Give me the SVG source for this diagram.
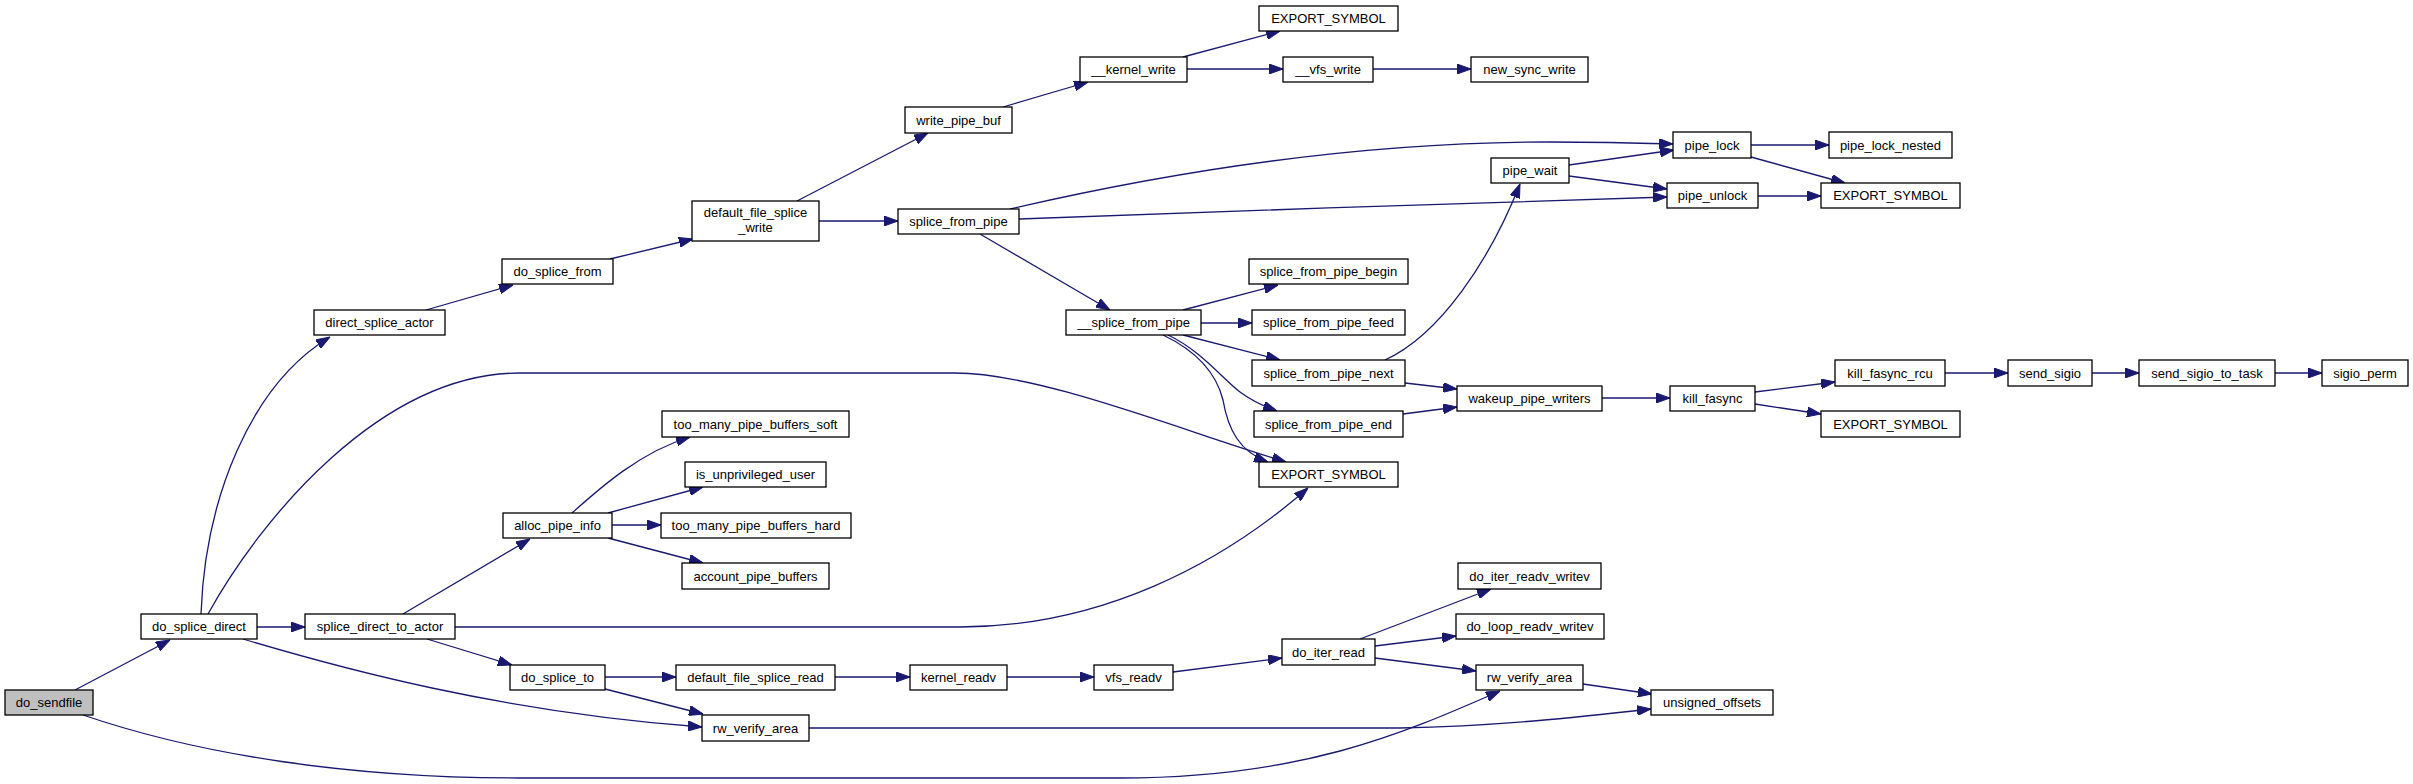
<svg xmlns="http://www.w3.org/2000/svg" width="2413" height="784" viewBox="0 0 2413 784">
<style>
.n rect{fill:#ffffff;stroke:#000000;stroke-width:1.3}
.n.root rect{fill:#bfbfbf}
.n text{font-family:"Liberation Sans",Arial,sans-serif;font-size:13px;fill:#000;text-anchor:middle}
#edges path{fill:none;stroke:#191970;stroke-width:1.3;marker-end:url(#ah)}
</style>
<defs>
<marker id="ah" markerWidth="14" markerHeight="10" refX="14" refY="5" orient="auto" markerUnits="userSpaceOnUse">
<path d="M0,0 L14,5 L0,10 z" fill="#191970" stroke="#191970" stroke-width="1"/>
</marker>
</defs>
<rect width="2413" height="784" fill="#ffffff"/>
<g id="edges">
<path d="M75,690 L170,640"/>
<path d="M83,715 C200,755 350,778 520,778 L1120,778 C1300,778 1400,735 1500,691"/>
<path d="M201,614 C205,500 250,385 330,337"/>
<path d="M208,614 C260,520 380,373 520,373 L955,373 C1040,373 1180,430 1286,462"/>
<path d="M257,627 L305,627"/>
<path d="M243,639 C340,668 500,712 702,727"/>
<path d="M403,614 L530,539"/>
<path d="M455,627 L960,627 C1100,627 1220,565 1308,488"/>
<path d="M427,639 L512,665"/>
<path d="M426,310 L513,285"/>
<path d="M610,259 L693,239"/>
<path d="M797,201 L928,133"/>
<path d="M819,221 L898,221"/>
<path d="M1003,107 L1088,82"/>
<path d="M1183,57 L1280,31"/>
<path d="M1187,69 L1283,69"/>
<path d="M1373,69 L1471,69"/>
<path d="M1010,209 C1200,165 1380,142 1550,142 C1600,142 1640,143 1673,144"/>
<path d="M1019,219 C1200,212 1500,202 1667,197"/>
<path d="M980,234 L1110,310"/>
<path d="M1183,310 L1278,285"/>
<path d="M1201,323 L1252,323"/>
<path d="M1183,335 L1280,360"/>
<path d="M1168,335 C1200,350 1222,378 1240,392 C1252,401 1263,406 1277,411"/>
<path d="M1163,335 C1205,355 1218,380 1223,400 C1228,430 1240,452 1268,462"/>
<path d="M1385,360 C1440,335 1490,260 1520,184"/>
<path d="M1405,383 L1457,389"/>
<path d="M1403,414 L1457,407"/>
<path d="M1569,165 L1674,150"/>
<path d="M1569,176 L1667,189"/>
<path d="M1751,145 L1829,145"/>
<path d="M1751,157 L1845,183"/>
<path d="M1758,196 L1821,196"/>
<path d="M1602,398 L1670,398"/>
<path d="M1755,392 L1835,382"/>
<path d="M1755,404 L1821,414"/>
<path d="M1945,373 L2008,373"/>
<path d="M2092,373 L2139,373"/>
<path d="M2275,373 L2322,373"/>
<path d="M572,513 C600,488 640,452 690,437"/>
<path d="M608,513 L703,487"/>
<path d="M612,525 L661,525"/>
<path d="M608,538 L703,563"/>
<path d="M605,677 L676,677"/>
<path d="M605,689 L703,714"/>
<path d="M835,677 L910,677"/>
<path d="M1007,677 L1094,677"/>
<path d="M1173,672 L1282,658"/>
<path d="M1360,639 L1491,589"/>
<path d="M1375,646 L1456,636"/>
<path d="M1375,658 L1476,671"/>
<path d="M1583,684 L1652,694"/>
<path d="M809,728 L1400,728 C1500,726 1580,717 1651,709"/>
</g>
<g id="do_sendfile" class="n root"><rect x="5" y="690" width="88" height="25"/><text x="49" y="707">do_sendfile</text></g>
<g id="do_splice_direct" class="n"><rect x="141" y="614" width="116" height="25"/><text x="199" y="631">do_splice_direct</text></g>
<g id="splice_direct_to_actor" class="n"><rect x="305" y="614" width="150" height="25"/><text x="380" y="631">splice_direct_to_actor</text></g>
<g id="direct_splice_actor" class="n"><rect x="314" y="310" width="131" height="25"/><text x="379.5" y="327">direct_splice_actor</text></g>
<g id="do_splice_from" class="n"><rect x="502" y="259" width="111" height="25"/><text x="557.5" y="276">do_splice_from</text></g>
<g id="default_file_splice_write" class="n"><rect x="692" y="201" width="127" height="40"/><text x="755.5" y="216.5">default_file_splice</text><text x="755.5" y="231.5">_write</text></g>
<g id="splice_from_pipe" class="n"><rect x="898" y="209" width="121" height="25"/><text x="958.5" y="226">splice_from_pipe</text></g>
<g id="write_pipe_buf" class="n"><rect x="905" y="107" width="107" height="26"/><text x="958.5" y="124.5">write_pipe_buf</text></g>
<g id="__kernel_write" class="n"><rect x="1080" y="57" width="107" height="25"/><text x="1133.5" y="74">__kernel_write</text></g>
<g id="EXPORT_SYMBOL_1" class="n"><rect x="1259" y="6" width="139" height="25"/><text x="1328.5" y="23">EXPORT_SYMBOL</text></g>
<g id="__vfs_write" class="n"><rect x="1283" y="57" width="90" height="25"/><text x="1328" y="74">__vfs_write</text></g>
<g id="new_sync_write" class="n"><rect x="1471" y="57" width="117" height="25"/><text x="1529.5" y="74">new_sync_write</text></g>
<g id="__splice_from_pipe" class="n"><rect x="1066" y="310" width="135" height="25"/><text x="1133.5" y="327">__splice_from_pipe</text></g>
<g id="splice_from_pipe_begin" class="n"><rect x="1249" y="259" width="159" height="25"/><text x="1328.5" y="276">splice_from_pipe_begin</text></g>
<g id="splice_from_pipe_feed" class="n"><rect x="1252" y="310" width="153" height="25"/><text x="1328.5" y="327">splice_from_pipe_feed</text></g>
<g id="splice_from_pipe_next" class="n"><rect x="1252" y="360" width="153" height="26"/><text x="1328.5" y="377.5">splice_from_pipe_next</text></g>
<g id="splice_from_pipe_end" class="n"><rect x="1254" y="411" width="149" height="26"/><text x="1328.5" y="428.5">splice_from_pipe_end</text></g>
<g id="EXPORT_SYMBOL_2" class="n"><rect x="1259" y="462" width="139" height="25"/><text x="1328.5" y="479">EXPORT_SYMBOL</text></g>
<g id="pipe_wait" class="n"><rect x="1491" y="158" width="78" height="25"/><text x="1530" y="175">pipe_wait</text></g>
<g id="wakeup_pipe_writers" class="n"><rect x="1457" y="386" width="145" height="25"/><text x="1529.5" y="403">wakeup_pipe_writers</text></g>
<g id="pipe_lock" class="n"><rect x="1673" y="132" width="78" height="26"/><text x="1712" y="149.5">pipe_lock</text></g>
<g id="pipe_unlock" class="n"><rect x="1667" y="183" width="91" height="25"/><text x="1712.5" y="200">pipe_unlock</text></g>
<g id="pipe_lock_nested" class="n"><rect x="1829" y="132" width="123" height="26"/><text x="1890.5" y="149.5">pipe_lock_nested</text></g>
<g id="EXPORT_SYMBOL_3" class="n"><rect x="1821" y="183" width="139" height="25"/><text x="1890.5" y="200">EXPORT_SYMBOL</text></g>
<g id="kill_fasync" class="n"><rect x="1670" y="386" width="85" height="25"/><text x="1712.5" y="403">kill_fasync</text></g>
<g id="kill_fasync_rcu" class="n"><rect x="1835" y="360" width="110" height="26"/><text x="1890" y="377.5">kill_fasync_rcu</text></g>
<g id="EXPORT_SYMBOL_4" class="n"><rect x="1821" y="411" width="139" height="26"/><text x="1890.5" y="428.5">EXPORT_SYMBOL</text></g>
<g id="send_sigio" class="n"><rect x="2008" y="360" width="84" height="26"/><text x="2050" y="377.5">send_sigio</text></g>
<g id="send_sigio_to_task" class="n"><rect x="2139" y="360" width="136" height="26"/><text x="2207" y="377.5">send_sigio_to_task</text></g>
<g id="sigio_perm" class="n"><rect x="2322" y="360" width="86" height="26"/><text x="2365" y="377.5">sigio_perm</text></g>
<g id="alloc_pipe_info" class="n"><rect x="503" y="513" width="109" height="25"/><text x="557.5" y="530">alloc_pipe_info</text></g>
<g id="too_many_pipe_buffers_soft" class="n"><rect x="662" y="411" width="187" height="26"/><text x="755.5" y="428.5">too_many_pipe_buffers_soft</text></g>
<g id="is_unprivileged_user" class="n"><rect x="685" y="462" width="141" height="25"/><text x="755.5" y="479">is_unprivileged_user</text></g>
<g id="too_many_pipe_buffers_hard" class="n"><rect x="661" y="513" width="190" height="25"/><text x="756" y="530">too_many_pipe_buffers_hard</text></g>
<g id="account_pipe_buffers" class="n"><rect x="682" y="563" width="147" height="26"/><text x="755.5" y="580.5">account_pipe_buffers</text></g>
<g id="do_splice_to" class="n"><rect x="510" y="665" width="95" height="25"/><text x="557.5" y="682">do_splice_to</text></g>
<g id="default_file_splice_read" class="n"><rect x="676" y="665" width="159" height="25"/><text x="755.5" y="682">default_file_splice_read</text></g>
<g id="kernel_readv" class="n"><rect x="910" y="665" width="97" height="25"/><text x="958.5" y="682">kernel_readv</text></g>
<g id="rw_verify_area_1" class="n"><rect x="702" y="715" width="107" height="26"/><text x="755.5" y="732.5">rw_verify_area</text></g>
<g id="vfs_readv" class="n"><rect x="1094" y="665" width="79" height="25"/><text x="1133.5" y="682">vfs_readv</text></g>
<g id="do_iter_read" class="n"><rect x="1282" y="639" width="93" height="26"/><text x="1328.5" y="656.5">do_iter_read</text></g>
<g id="do_iter_readv_writev" class="n"><rect x="1458" y="563" width="143" height="26"/><text x="1529.5" y="580.5">do_iter_readv_writev</text></g>
<g id="do_loop_readv_writev" class="n"><rect x="1456" y="614" width="148" height="25"/><text x="1530" y="631">do_loop_readv_writev</text></g>
<g id="rw_verify_area_2" class="n"><rect x="1476" y="665" width="107" height="25"/><text x="1529.5" y="682">rw_verify_area</text></g>
<g id="unsigned_offsets" class="n"><rect x="1651" y="690" width="122" height="25"/><text x="1712" y="707">unsigned_offsets</text></g>
</svg>
